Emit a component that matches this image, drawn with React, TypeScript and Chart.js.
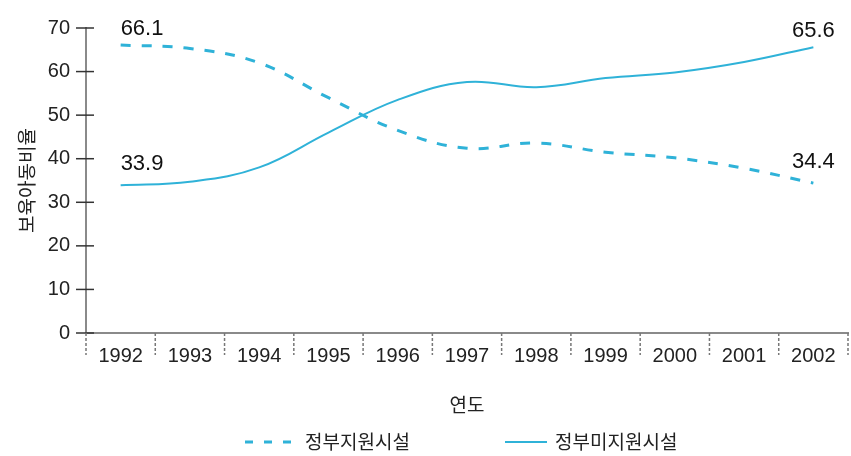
import React, { useEffect, useRef } from "react";
import { Chart, registerables } from "chart.js";

Chart.register(...registerables);

const years = ["1992", "1993", "1994", "1995", "1996", "1997", "1998", "1999", "2000", "2001", "2002"];
const supported = [66.1, 65.3, 62.0, 54.0, 46.5, 42.4, 43.6, 41.5, 40.2, 37.8, 34.4];
const unsupported = [33.9, 34.7, 38.0, 46.0, 53.5, 57.6, 56.4, 58.5, 59.8, 62.2, 65.6];
const seriesNames = ["정부지원시설", "정부미지원시설"];
const yAxisTitle = "보육아동비율";
const xAxisTitle = "연도";
const yMin = 0;
const yMax = 70;
const yStep = 10;

const LINE_COLOR = "#2fb2d8";
const TEXT_COLOR = "#222";
const LATIN = "'Liberation Sans', Arial, sans-serif";
const KR = "'Noto Sans CJK KR', 'Noto Sans', sans-serif";

const decorPlugin = {
  id: "decor",
  afterDraw(chart: any) {
    const ctx = chart.ctx;
    const xs = chart.scales.x;
    const ys = chart.scales.y;
    ctx.save();
    // y tick marks crossing the axis
    ctx.strokeStyle = "#333";
    ctx.lineWidth = 1.5;
    ys.ticks.forEach((t: any) => {
      const py = ys.getPixelForValue(t.value);
      ctx.beginPath();
      ctx.moveTo(ys.right - 10, py);
      ctx.lineTo(ys.right + 8, py);
      ctx.stroke();
    });
    // x category separators
    const n = years.length;
    const w = (xs.right - xs.left) / n;
    ctx.strokeStyle = "#777";
    ctx.setLineDash([3, 2]);
    for (let i = 0; i <= n; i++) {
      const px = xs.left + i * w;
      ctx.beginPath();
      ctx.moveTo(px, xs.top);
      ctx.lineTo(px, xs.top + 22);
      ctx.stroke();
    }
    ctx.setLineDash([]);

    // end value labels
    ctx.fillStyle = "#111";
    ctx.font = `22px ${LATIN}`;
    ctx.textBaseline = "alphabetic";
    chart.data.datasets.forEach((ds: any, di: number) => {
      const meta = chart.getDatasetMeta(di);
      const last = meta.data.length - 1;
      [0, last].forEach((idx) => {
        const pt = meta.data[idx];
        const v = ds.data[idx];
        const off = v > 50 ? 10 : 15;
        ctx.textAlign = idx === 0 ? "left" : "center";
        ctx.fillText(v.toFixed(1), pt.x + (idx === 0 ? 0 : 0), pt.y - off);
      });
    });

    // legend
    const ly = 442;
    const cx = (chart.chartArea.left + chart.chartArea.right) / 2;
    ctx.font = `19px ${KR}`;
    ctx.textAlign = "left";
    ctx.textBaseline = "middle";
    ctx.strokeStyle = LINE_COLOR;
    // dashed item
    ctx.lineWidth = 3;
    ctx.setLineDash([8, 11]);
    ctx.beginPath();
    ctx.moveTo(cx - 222, ly);
    ctx.lineTo(cx - 166, ly);
    ctx.stroke();
    ctx.setLineDash([]);
    ctx.fillStyle = TEXT_COLOR;
    ctx.fillText(seriesNames[0], cx - 162, ly);
    // solid item
    ctx.lineWidth = 2;
    ctx.beginPath();
    ctx.moveTo(cx + 38, ly);
    ctx.lineTo(cx + 80, ly);
    ctx.stroke();
    ctx.fillText(seriesNames[1], cx + 88, ly);
    ctx.restore();
  },
};

export default function App() {
  const canvasRef = useRef<HTMLCanvasElement>(null);

  useEffect(() => {
    document.body.style.margin = "0";
    const canvas = canvasRef.current;
    if (!canvas) return;
    const chart = new Chart(canvas, {
      type: "line",
      data: {
        labels: years,
        datasets: [
          {
            label: seriesNames[0],
            data: supported,
            borderColor: LINE_COLOR,
            backgroundColor: LINE_COLOR,
            borderWidth: 3,
            borderDash: [10, 11],
            pointRadius: 0,
            tension: 0.4,
            fill: false,
          },
          {
            label: seriesNames[1],
            data: unsupported,
            borderColor: LINE_COLOR,
            backgroundColor: LINE_COLOR,
            borderWidth: 2,
            pointRadius: 0,
            tension: 0.4,
            fill: false,
          },
        ],
      },
      options: {
        responsive: false,
        animation: false,
        layout: { padding: { top: 24, right: 3, bottom: 0, left: 0 } },
        plugins: {
          legend: { display: false },
          tooltip: { enabled: false },
        },
        scales: {
          x: {
            type: "category",
            offset: true,
            grid: { display: false, drawTicks: false, offset: true },
            border: { display: true, color: "#8a8a8a", width: 2 },
            ticks: {
              color: TEXT_COLOR,
              font: { family: LATIN, size: 20 },
              padding: 11,
              maxRotation: 0,
              autoSkip: false,
            },
            title: {
              display: true,
              text: xAxisTitle,
              color: TEXT_COLOR,
              font: { family: KR, size: 19 },
              padding: { top: 0, bottom: 40 },
            },
            afterFit: (s: any) => {
              s.height = 123;
            },
          },
          y: {
            min: yMin,
            max: yMax,
            grid: { display: false, drawTicks: false },
            border: { display: true, color: "#8a8a8a", width: 2 },
            ticks: {
              stepSize: yStep,
              color: TEXT_COLOR,
              font: { family: LATIN, size: 20 },
              padding: 16,
            },
            title: {
              display: true,
              text: yAxisTitle,
              color: TEXT_COLOR,
              font: { family: KR, size: 19 },
              padding: { top: 15, bottom: 0 },
            },
            afterFit: (s: any) => {
              s.width = 86;
            },
          },
        },
      },
      plugins: [decorPlugin],
    });
    return () => chart.destroy();
  }, []);

  return (
    <div style={{ width: 851, height: 456 }}>
      <canvas ref={canvasRef} width={851} height={456} style={{ display: "block", width: 851, height: 456 }} />
    </div>
  );
}
